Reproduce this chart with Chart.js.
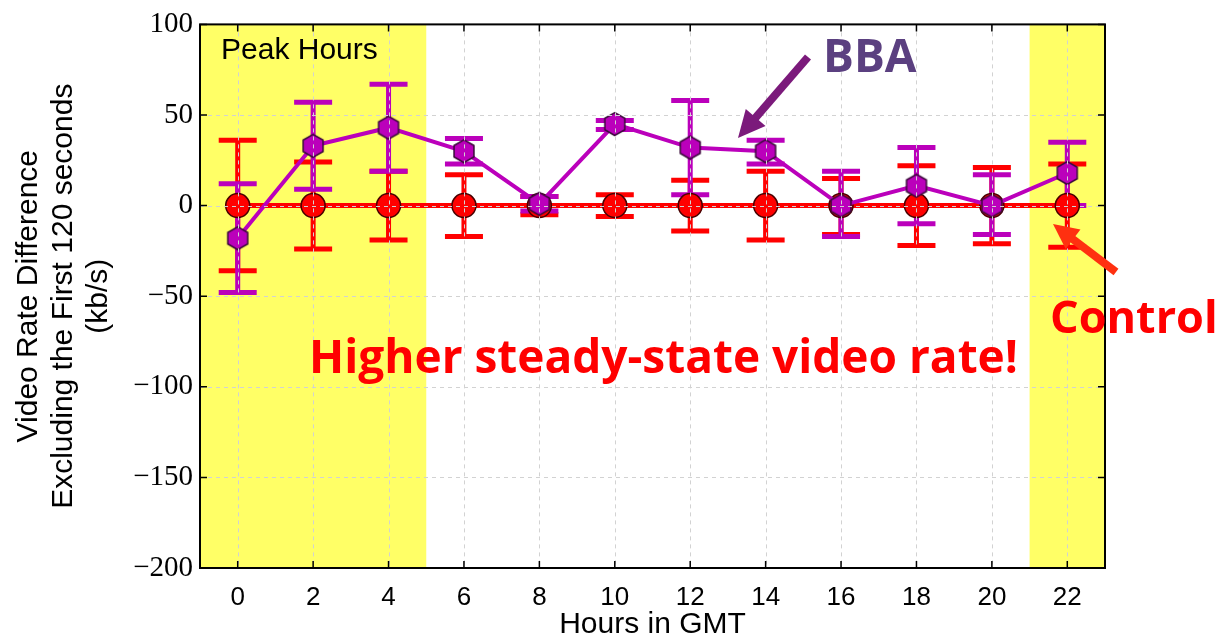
<!DOCTYPE html>
<html>
<head>
<meta charset="utf-8">
<script src="https://cdn.jsdelivr.net/npm/chart.js@4.4.1/dist/chart.umd.min.js"></script>
<style>
  html, body { margin: 0; padding: 0; background: #ffffff; }
  #wrap { width: 1223px; height: 640px; }
</style>
</head>
<body>
<div id="wrap"><canvas id="chart" width="1223" height="640"></canvas></div>
<script>
// data
var hours = [0, 2, 4, 6, 8, 10, 12, 14, 16, 18, 20, 22];
var bbaMean = [-18, 33, 43, 30, 1, 45, 32, 30, 0, 11, 0, 18];
var bbaHigh = [12, 57, 67, 37, 5, 47, 58, 36, 19, 32, 17, 35];
var bbaLow = [-48, 9, 19, 23, -3, 42, 6, 23, -17, -10, -16, 0];
var ctrlMean = [0, 0, 0, 0, 0, 0, 0, 0, 0, 0, 0, 0];
var ctrlHigh = [36, 24, 19, 17, 5, 6, 14, 19, 15, 22, 21, 23];
var ctrlLow = [-36, -24, -19, -17, -5, -6, -14, -19, -16, -22, -21, -23];
var xTicks = [0, 2, 4, 6, 8, 10, 12, 14, 16, 18, 20, 22];
var yTicks = [-200, -150, -100, -50, 0, 50, 100];
var peakRanges = [[-1, 5], [21, 23]];

function points(ys) {
    return hours.map(function (h, i) { return { x: h, y: ys[i] }; });
}

// hexagon marker for BBA
var hex = document.createElement('canvas');
hex.width = 26; hex.height = 26;
var hc = hex.getContext('2d');
hc.beginPath();
for (var k = 0; k < 6; k++) {
    var a = Math.PI / 2 + k * Math.PI / 3;
    var px = 13 + 11.5 * Math.cos(a), py = 13 + 11.5 * Math.sin(a);
    if (k == 0) hc.moveTo(px, py); else hc.lineTo(px, py);
}
hc.closePath();
hc.fillStyle = '#bb00bb';
hc.fill();
hc.lineWidth = 1.5;
hc.strokeStyle = '#3a0a3a';
hc.stroke();

var bands = {
    id: 'bands',
    beforeDraw: function (chart) {
        var c = chart.ctx, a = chart.chartArea, x = chart.scales.x;
        c.save();
        c.fillStyle = '#ffff66';
        peakRanges.forEach(function (r) {
            var x0 = x.getPixelForValue(r[0]), x1 = x.getPixelForValue(r[1]);
            c.fillRect(x0, a.top, x1 - x0, a.bottom - a.top);
        });
        c.restore();
    }
};

function drawBars(chart, lo, hi, color) {
    var c = chart.ctx, x = chart.scales.x, y = chart.scales.y;
    c.save();
    c.strokeStyle = color;
    c.lineWidth = 5;
    hours.forEach(function (h, i) {
        var px = x.getPixelForValue(h);
        var y0 = y.getPixelForValue(lo[i]), y1 = y.getPixelForValue(hi[i]);
        c.beginPath();
        c.moveTo(px, y0); c.lineTo(px, y1);
        c.moveTo(px - 19, y0); c.lineTo(px + 19, y0);
        c.moveTo(px - 19, y1); c.lineTo(px + 19, y1);
        c.stroke();
    });
    c.restore();
}

var errorBars = {
    id: 'errorBars',
    beforeDatasetsDraw: function (chart) {
        drawBars(chart, ctrlLow, ctrlHigh, '#ff0000');
        drawBars(chart, bbaLow, bbaHigh, '#bb00bb');
    },
    // dashed grid sits on top of the data, like the original
    afterDatasetsDraw: function (chart) {
        var c = chart.ctx, a = chart.chartArea, x = chart.scales.x, y = chart.scales.y;
        c.save();
        c.strokeStyle = '#d2d2d2';
        c.lineWidth = 1;
        c.setLineDash([4, 4]);
        c.beginPath();
        xTicks.forEach(function (v) {
            var px = Math.round(x.getPixelForValue(v)) + 0.5;
            c.moveTo(px, a.top); c.lineTo(px, a.bottom);
        });
        yTicks.forEach(function (v) {
            var py = Math.round(y.getPixelForValue(v)) + 0.5;
            c.moveTo(a.left, py); c.lineTo(a.right, py);
        });
        c.stroke();
        c.restore();
    }
};

function arrow(c, x0, y0, x1, y1, color, w, head) {
    var ang = Math.atan2(y1 - y0, x1 - x0);
    c.save();
    c.strokeStyle = color;
    c.fillStyle = color;
    c.lineWidth = w;
    c.beginPath();
    c.moveTo(x0, y0);
    c.lineTo(x1 - head * 0.8 * Math.cos(ang), y1 - head * 0.8 * Math.sin(ang));
    c.stroke();
    c.beginPath();
    c.moveTo(x1, y1);
    c.lineTo(x1 - head * Math.cos(ang - 0.45), y1 - head * Math.sin(ang - 0.45));
    c.lineTo(x1 - head * Math.cos(ang + 0.45), y1 - head * Math.sin(ang + 0.45));
    c.closePath();
    c.fill();
    c.restore();
}

var frame = {
    id: 'frame',
    afterDraw: function (chart) {
        var c = chart.ctx, a = chart.chartArea, x = chart.scales.x, y = chart.scales.y;
        c.save();
        c.strokeStyle = '#000000';
        c.lineWidth = 1.5;
        c.beginPath();
        xTicks.forEach(function (v) {
            var px = x.getPixelForValue(v);
            c.moveTo(px, a.bottom); c.lineTo(px, a.bottom - 7);
            c.moveTo(px, a.top); c.lineTo(px, a.top + 7);
        });
        yTicks.forEach(function (v) {
            var py = y.getPixelForValue(v);
            c.moveTo(a.left, py); c.lineTo(a.left + 7, py);
            c.moveTo(a.right, py); c.lineTo(a.right - 7, py);
        });
        c.stroke();
        c.lineWidth = 2;
        c.strokeRect(a.left, a.top, a.right - a.left, a.bottom - a.top);

        // annotations
        c.fillStyle = '#000000';
        c.font = '30px "Liberation Sans"';
        c.textBaseline = 'alphabetic';
        c.fillText('Peak Hours', 221, 59);

        c.fillStyle = '#5b4080';
        c.font = 'bold 46px "Open Sans"';
        c.fillText('BBA', 823, 72);
        arrow(c, 808, 57, 738, 138, '#7b1a7b', 8, 30);

        c.fillStyle = '#ff0000';
        c.font = 'bold 46px "Open Sans"';
        c.fillText('Higher steady-state video rate!', 309, 373);
        c.font = 'bold 45px "Open Sans"';
        c.fillText('Control', 1050, 333);
        arrow(c, 1116, 272, 1053, 224, '#ff3010', 8, 28);
        c.restore();
    }
};

var ctx = document.getElementById('chart').getContext('2d');
var myChart = new Chart(ctx, {
    type: 'line',
    data: {
        datasets: [{
            label: 'Control',
            data: points(ctrlMean),
            borderColor: '#ff0000',
            borderWidth: 5,
            pointStyle: 'circle',
            pointRadius: 12,
            pointBackgroundColor: '#ff0000',
            pointBorderColor: '#4a0000',
            pointBorderWidth: 1.5,
            order: 2
        }, {
            label: 'BBA',
            data: points(bbaMean),
            borderColor: '#bb00bb',
            borderWidth: 4,
            pointStyle: hex,
            order: 1
        }]
    },
    options: {
        responsive: false,
        animation: false,
        layout: { padding: { top: 23, right: 118, left: 11, bottom: 0 } },
        plugins: {
            legend: { display: false },
            tooltip: { enabled: false }
        },
        scales: {
            x: {
                type: 'linear',
                min: -1,
                max: 23,
                afterBuildTicks: function (s) { s.ticks = xTicks.map(function (v) { return { value: v }; }); },
                afterFit: function (s) { s.height = 72; },
                grid: { display: false, drawTicks: false },
                border: { display: false },
                ticks: { padding: 14, color: '#000000', font: { family: 'Liberation Sans', size: 26 } },
                title: {
                    display: true, text: 'Hours in GMT', color: '#000000', padding: { top: 0, bottom: 0 },
                    font: { family: 'Liberation Sans', size: 30, lineHeight: 1.0 }
                }
            },
            y: {
                min: -200,
                max: 100,
                afterBuildTicks: function (s) { s.ticks = yTicks.map(function (v) { return { value: v }; }); },
                afterFit: function (s) { s.width = 189; },
                grid: { display: false, drawTicks: false },
                border: { display: false },
                ticks: {
                    padding: 7, color: '#000000', font: { family: 'Liberation Serif', size: 29 },
                    callback: function (v) { return String(v).replace('-', '\u2212'); }
                },
                title: {
                    display: true,
                    text: ['Video Rate Difference', 'Excluding the First 120 seconds', '(kb/s)'],
                    color: '#000000', padding: { top: 0, bottom: 0 },
                    font: { family: 'Liberation Sans', size: 30, lineHeight: 1.17 }
                }
            }
        }
    },
    plugins: [bands, errorBars, frame]
});
</script>
</body>
</html>
